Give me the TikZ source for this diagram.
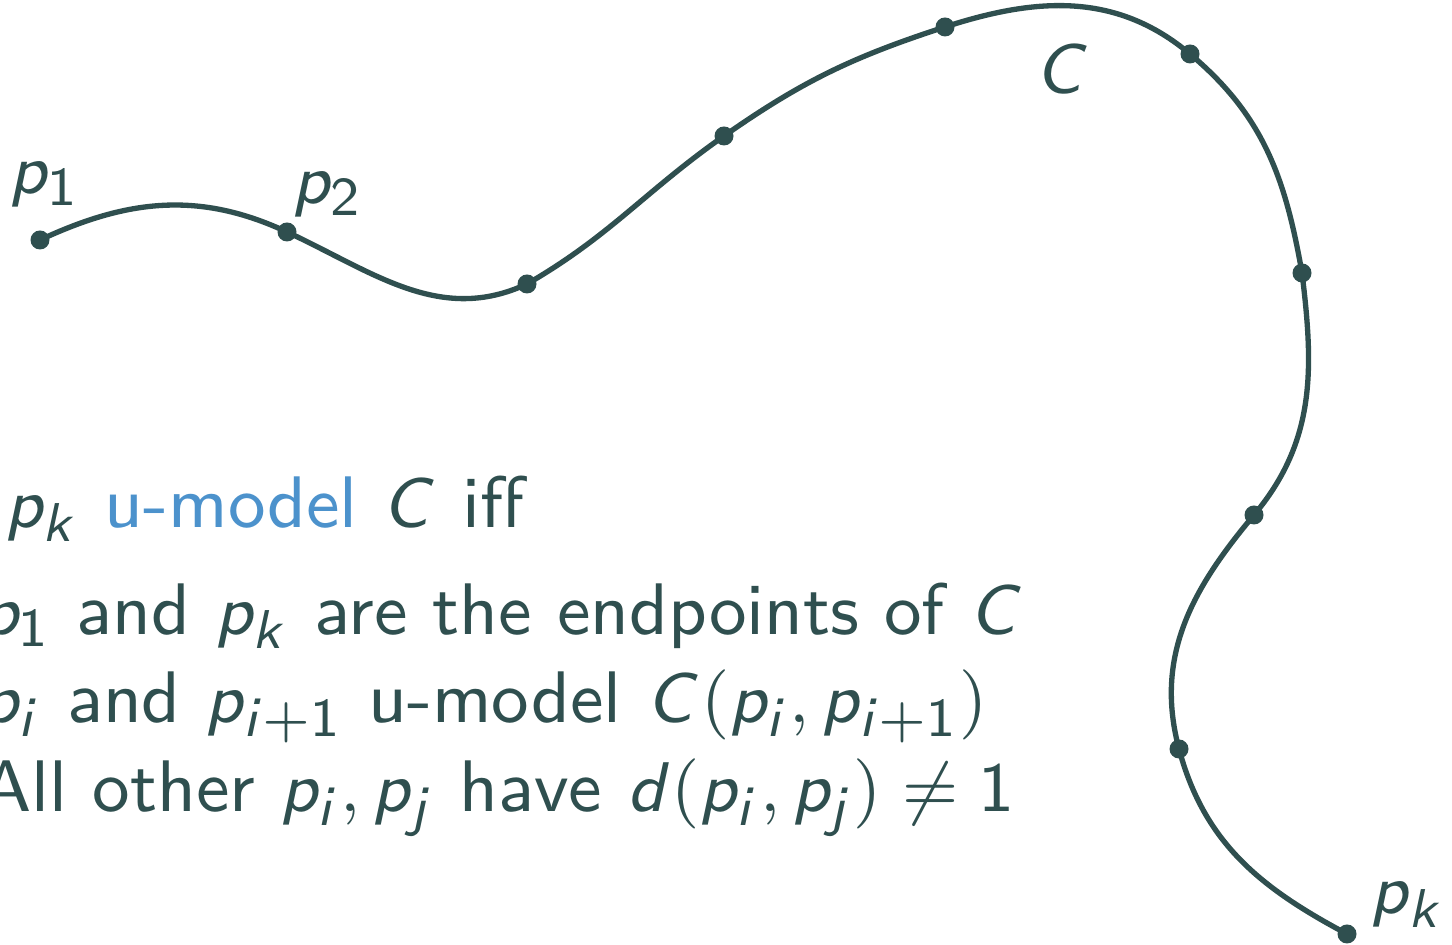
\documentclass[tikz,border=0pt]{standalone}
\usepackage{tikz}
\usetikzlibrary{calc}
\DeclareSymbolFont{sfletters}{OT1}{cmss}{m}{sl}
\DeclareSymbolFont{sfdigits}{OT1}{cmss}{m}{n}
\DeclareMathSymbol{p}{\mathalpha}{sfletters}{`p}
\DeclareMathSymbol{k}{\mathalpha}{sfletters}{`k}
\DeclareMathSymbol{i}{\mathalpha}{sfletters}{`i}
\DeclareMathSymbol{j}{\mathalpha}{sfletters}{`j}
\DeclareMathSymbol{d}{\mathalpha}{sfletters}{`d}
\DeclareMathSymbol{C}{\mathalpha}{sfletters}{`C}
\DeclareMathSymbol{1}{\mathalpha}{sfdigits}{`1}
\DeclareMathSymbol{2}{\mathalpha}{sfdigits}{`2}
\definecolor{slate}{RGB}{47,79,79}
\definecolor{ublue}{RGB}{76,146,204}
\tikzstyle{curve} = [color=slate,line width=0.68pt]
\tikzstyle{dot} = [fill=slate]
\tikzstyle{lbl} = [text=slate,inner sep=0pt]

\begin{document}
\begin{tikzpicture}[x=0.128pt,y=0.128pt,font=\fontsize{9.35}{11.4}\selectfont\sffamily]
\useasboundingbox (0,0) rectangle (1452,945);

%Points on the curve
\coordinate (p1) at (40,705);
\coordinate (p2) at (287,713);
\coordinate (p3) at (527,661);
\coordinate (p4) at (724,809);
\coordinate (p5) at (945,918);
\coordinate (p6) at (1190,891);
\coordinate (p7) at (1302,672);
\coordinate (p8) at (1254,430);
\coordinate (p9) at (1179,196);
\coordinate (pk) at (1347,11);

%Curve C
\draw [curve] (p1) to[out=25,in=155] (p2) to[out=-25,in=205] (p3)
  to[out=30,in=215] (p4) to[out=35,in=198] (p5) to[out=18,in=140] (p6)
  to[out=-40,in=100] (p7) to[out=-83,in=50] (p8) to[out=-130,in=105] (p9)
  to[out=-75,in=152] (pk);
\foreach \p in {p1,p2,p3,p4,p5,p6,p7,p8,p9,pk}
  \fill [dot] (\p) circle (9.5);

% Text Node
\node [lbl] (lp1) at (45,760) {$p_1$};
% Text Node
\node [lbl] (lp2) at (328,750) {$p_2$};
% Text Node
\node [lbl] (lC) at (1063,876) {$C$};
% Text Node
\node [lbl] (lpk) at (1408,40) {$p_k$};
% Text Node
\node [lbl,anchor=base west] (head) at (4,417) {$p_k$ \textcolor{ublue}{u-model} $C$ iff};
% Text Node
\node [lbl,anchor=base west] (it1) at (-20,310) {$p_1$ and $p_k$ are the endpoints of $C$};
% Text Node
\node [lbl,anchor=base west] (it2) at (-20,222) {$p_i$ and $p_{i+1}$ u-model $C(p_i,p_{i+1})$};
% Text Node
\node [lbl,anchor=base west] (it3) at (-20,133) {All other $p_i,p_j$ have $d(p_i,p_j)\neq 1$};

\end{tikzpicture}
\end{document}
